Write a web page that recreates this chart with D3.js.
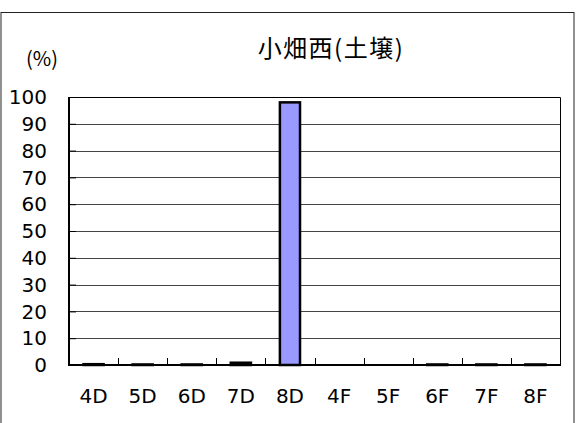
<!DOCTYPE html>
<html>
<head>
<meta charset="utf-8">
<script src="https://cdn.jsdelivr.net/npm/d3@7"></script>
<style>
  body { margin: 0; background: #fff; }
  svg { display: block; }
  text { font-family: "DejaVu Sans", "Liberation Sans", sans-serif; fill: #000; }
</style>
</head>
<body>
<div id="chart"></div>
<script>
// data
const categories = ["4D", "5D", "6D", "7D", "8D", "4F", "5F", "6F", "7F", "8F"];
const percentValues = [0.3, 0.2, 0.2, 0.85, 98, 0, 0, 0.2, 0.2, 0.2];
const yTicks = [0, 10, 20, 30, 40, 50, 60, 70, 80, 90, 100];
const chartTitle = "小畑西(土壌)";
const unitLabel = "(%)";

const width = 578, height = 423;
const plotLeft = 69, plotRight = 560, plotTop = 97, plotBottom = 365;

const svg = d3.select("#chart").append("svg")
    .attr("width", width)
    .attr("height", height);

// outer chart frame (bottom runs off the picture)
svg.append("rect")
    .attr("x", 1)
    .attr("y", 12.5)
    .attr("width", 573)
    .attr("height", 430)
    .attr("fill", "none")
    .attr("stroke", "#222")
    .attr("stroke-width", 1);

const x = d3.scaleBand()
    .domain(categories)
    .range([plotLeft, plotRight])
    .paddingInner(0.59)
    .paddingOuter(0.295);

const y = d3.scaleLinear()
    .domain([0, 100])
    .range([plotBottom, plotTop]);

// grid lines
svg.append("g")
    .selectAll("line")
    .data(yTicks.filter(t => t > 0 && t < 100))
    .join("line")
    .attr("x1", plotLeft)
    .attr("x2", plotRight)
    .attr("y1", d => Math.round(y(d)) + 0.5)
    .attr("y2", d => Math.round(y(d)) + 0.5)
    .attr("stroke", "#444")
    .attr("stroke-width", 1);

// plot border top and right
svg.append("path")
    .attr("d", `M${plotLeft},${plotTop + 0.5}H${plotRight + 0.5}V${plotBottom}`)
    .attr("fill", "none")
    .attr("stroke", "#000")
    .attr("stroke-width", 1);

// y axis with inward ticks
const yAxisG = svg.append("g")
    .attr("transform", `translate(${plotLeft},0)`)
    .call(d3.axisRight(y).tickValues(yTicks).tickSize(7).tickFormat(""));
yAxisG.select(".domain").remove();
yAxisG.selectAll("line").attr("stroke", "#000");
svg.append("line")
    .attr("x1", plotLeft)
    .attr("x2", plotLeft)
    .attr("y1", plotTop)
    .attr("y2", plotBottom + 1)
    .attr("stroke", "#000")
    .attr("stroke-width", 2);

// x axis baseline
svg.append("line")
    .attr("x1", plotLeft)
    .attr("x2", plotRight + 1)
    .attr("y1", plotBottom)
    .attr("y2", plotBottom)
    .attr("stroke", "#000")
    .attr("stroke-width", 2);

// category boundary ticks pointing up
svg.append("g")
    .selectAll("line")
    .data(categories.slice(1))
    .join("line")
    .attr("x1", d => Math.round(x(d) + x.bandwidth() / 2 - x.step() / 2) + 0.5)
    .attr("x2", d => Math.round(x(d) + x.bandwidth() / 2 - x.step() / 2) + 0.5)
    .attr("y1", plotBottom)
    .attr("y2", plotBottom - 7)
    .attr("stroke", "#000")
    .attr("stroke-width", 1);

// bars (drawn over the axis so the near-zero ones show as thick dashes)
svg.append("g")
    .selectAll("rect")
    .data(categories.map((c, i) => ({cat: c, val: percentValues[i]})))
    .join("rect")
    .filter(d => d.val > 0)
    .attr("x", d => x(d.cat))
    .attr("y", d => y(d.val))
    .attr("width", x.bandwidth())
    .attr("height", d => y(0) - y(d.val))
    .attr("fill", "#9999FF")
    .attr("stroke", "#000")
    .attr("stroke-width", 2.5);

// y labels
svg.append("g")
    .selectAll("text")
    .data(yTicks)
    .join("text")
    .attr("x", 47)
    .attr("y", d => y(d))
    .attr("dy", "0.36em")
    .attr("text-anchor", "end")
    .style("font-size", "20px")
    .text(d => d);

// x labels
svg.append("g")
    .selectAll("text")
    .data(categories)
    .join("text")
    .attr("x", d => x(d) + x.bandwidth() / 2)
    .attr("y", 403)
    .attr("text-anchor", "middle")
    .style("font-size", "20px")
    .text(d => d);

// title and unit
svg.append("text")
    .attr("x", 331)
    .attr("y", 57)
    .attr("text-anchor", "middle")
    .style("font-family", "'Noto Sans CJK JP', sans-serif")
    .style("font-size", "24px")
    .style("letter-spacing", "1.5px")
    .text(chartTitle);

svg.append("text")
    .attr("x", 42)
    .attr("y", 66)
    .attr("text-anchor", "middle")
    .style("font-family", "'Noto Sans CJK JP', sans-serif")
    .style("font-size", "20px")
    .text(unitLabel);
</script>
</body>
</html>
